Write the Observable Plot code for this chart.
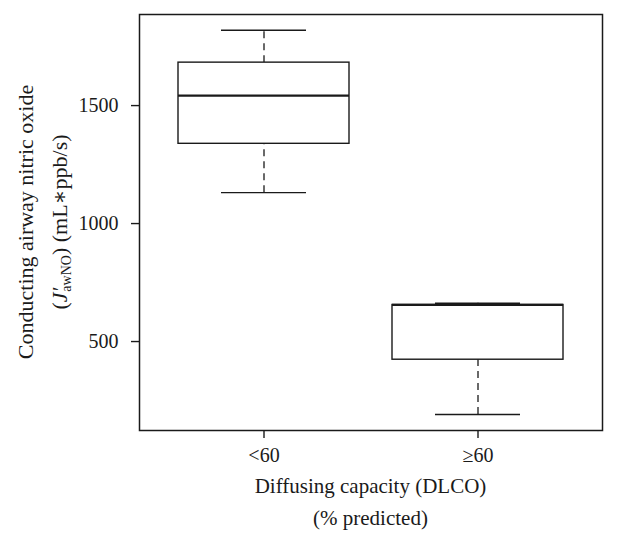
<!DOCTYPE html>
<html>
<head>
<meta charset="utf-8">
<script src="https://cdn.jsdelivr.net/npm/d3@7"></script>
<script src="https://cdn.jsdelivr.net/npm/@observablehq/plot@0.6"></script>
<style>
  html, body { margin: 0; padding: 0; background: #fff; }
  #chart { width: 617px; height: 544px; }
</style>
</head>
<body>
<div id="chart"></div>
<script>
// Data (summary statistics per group)
const groups = ["<60", "≥60"];
const whiskerLow = [1131, 191];
const q1 = [1338, 423];
const median = [1542, 655];
const q3 = [1682, 655];
const whiskerHigh = [1819, 662];
const yTicks = [500, 1000, 1500];

const data = groups.map((g, i) => ({
  g, lo: whiskerLow[i], q1: q1[i], med: median[i], q3: q3[i], hi: whiskerHigh[i]
}));

const FONT = "'Liberation Serif', 'DejaVu Serif', serif";
const ink = "#1a1a1a";

const chart = Plot.plot({
  width: 617,
  height: 544,
  marginLeft: 139,
  marginRight: 15,
  marginTop: 14,
  marginBottom: 114,
  style: { fontFamily: FONT, fontSize: "20px", color: ink, background: "#fff" },
  x: { type: "band", domain: groups, paddingInner: 0.2, paddingOuter: 0.177, label: null },
  y: { domain: [123, 1886], label: null },
  marks: [
    Plot.ruleX(data, { x: "g", y1: "q3", y2: "hi", stroke: ink, strokeWidth: 1.3, strokeDasharray: "7,5" }),
    Plot.ruleX(data, { x: "g", y1: "lo", y2: "q1", stroke: ink, strokeWidth: 1.3, strokeDasharray: "7,5" }),
    Plot.tickY(data, { x: "g", y: "hi", stroke: ink, strokeWidth: 1.4, insetLeft: 43, insetRight: 43 }),
    Plot.tickY(data, { x: "g", y: "lo", stroke: ink, strokeWidth: 1.4, insetLeft: 43, insetRight: 43 }),
    Plot.barY(data, { x: "g", y1: "q1", y2: "q3", fill: "white", stroke: ink, strokeWidth: 1.4 }),
    Plot.tickY(data, { x: "g", y: "med", stroke: ink, strokeWidth: 2.2 }),
    Plot.axisY({ ticks: yTicks, tickFormat: d => String(d), tickSize: 8, tickPadding: 13, label: null, stroke: ink, strokeWidth: 1.4, fontSize: 20 }),
    Plot.axisX({ tickSize: 8, tickPadding: 9, label: null, stroke: ink, strokeWidth: 1.4, fontSize: 20 }),
    Plot.frame({ stroke: ink, strokeWidth: 1.5 })
  ]
});

document.getElementById("chart").appendChild(chart);

const svg = d3.select(chart);

// Axis titles
const cx = (139 + 602) / 2;
const cy = (14 + 430) / 2;

svg.append("text")
  .attr("x", cx).attr("y", 493)
  .attr("text-anchor", "middle")
  .style("font-family", FONT).style("font-size", "21px").attr("fill", ink)
  .text("Diffusing capacity (DLCO)");
svg.append("text")
  .attr("x", cx).attr("y", 525)
  .attr("text-anchor", "middle")
  .style("font-family", FONT).style("font-size", "21px").attr("fill", ink)
  .text("(% predicted)");

svg.append("text")
  .attr("transform", `translate(33,${cy}) rotate(-90)`)
  .attr("text-anchor", "middle")
  .style("font-family", FONT).style("font-size", "22px").attr("fill", ink)
  .text("Conducting airway nitric oxide");

const yl2 = svg.append("text")
  .attr("transform", `translate(67,${cy}) rotate(-90)`)
  .attr("text-anchor", "middle")
  .style("font-family", FONT).style("font-size", "22px").attr("fill", ink);
yl2.append("tspan").text("(");
yl2.append("tspan").style("font-style", "italic").text("J′");
yl2.append("tspan").attr("dx", "-4").attr("dy", "4").style("font-size", "14px").text("awNO");
yl2.append("tspan").attr("dy", "-4").text(") (mL∗ppb/s)");
</script>
</body>
</html>
